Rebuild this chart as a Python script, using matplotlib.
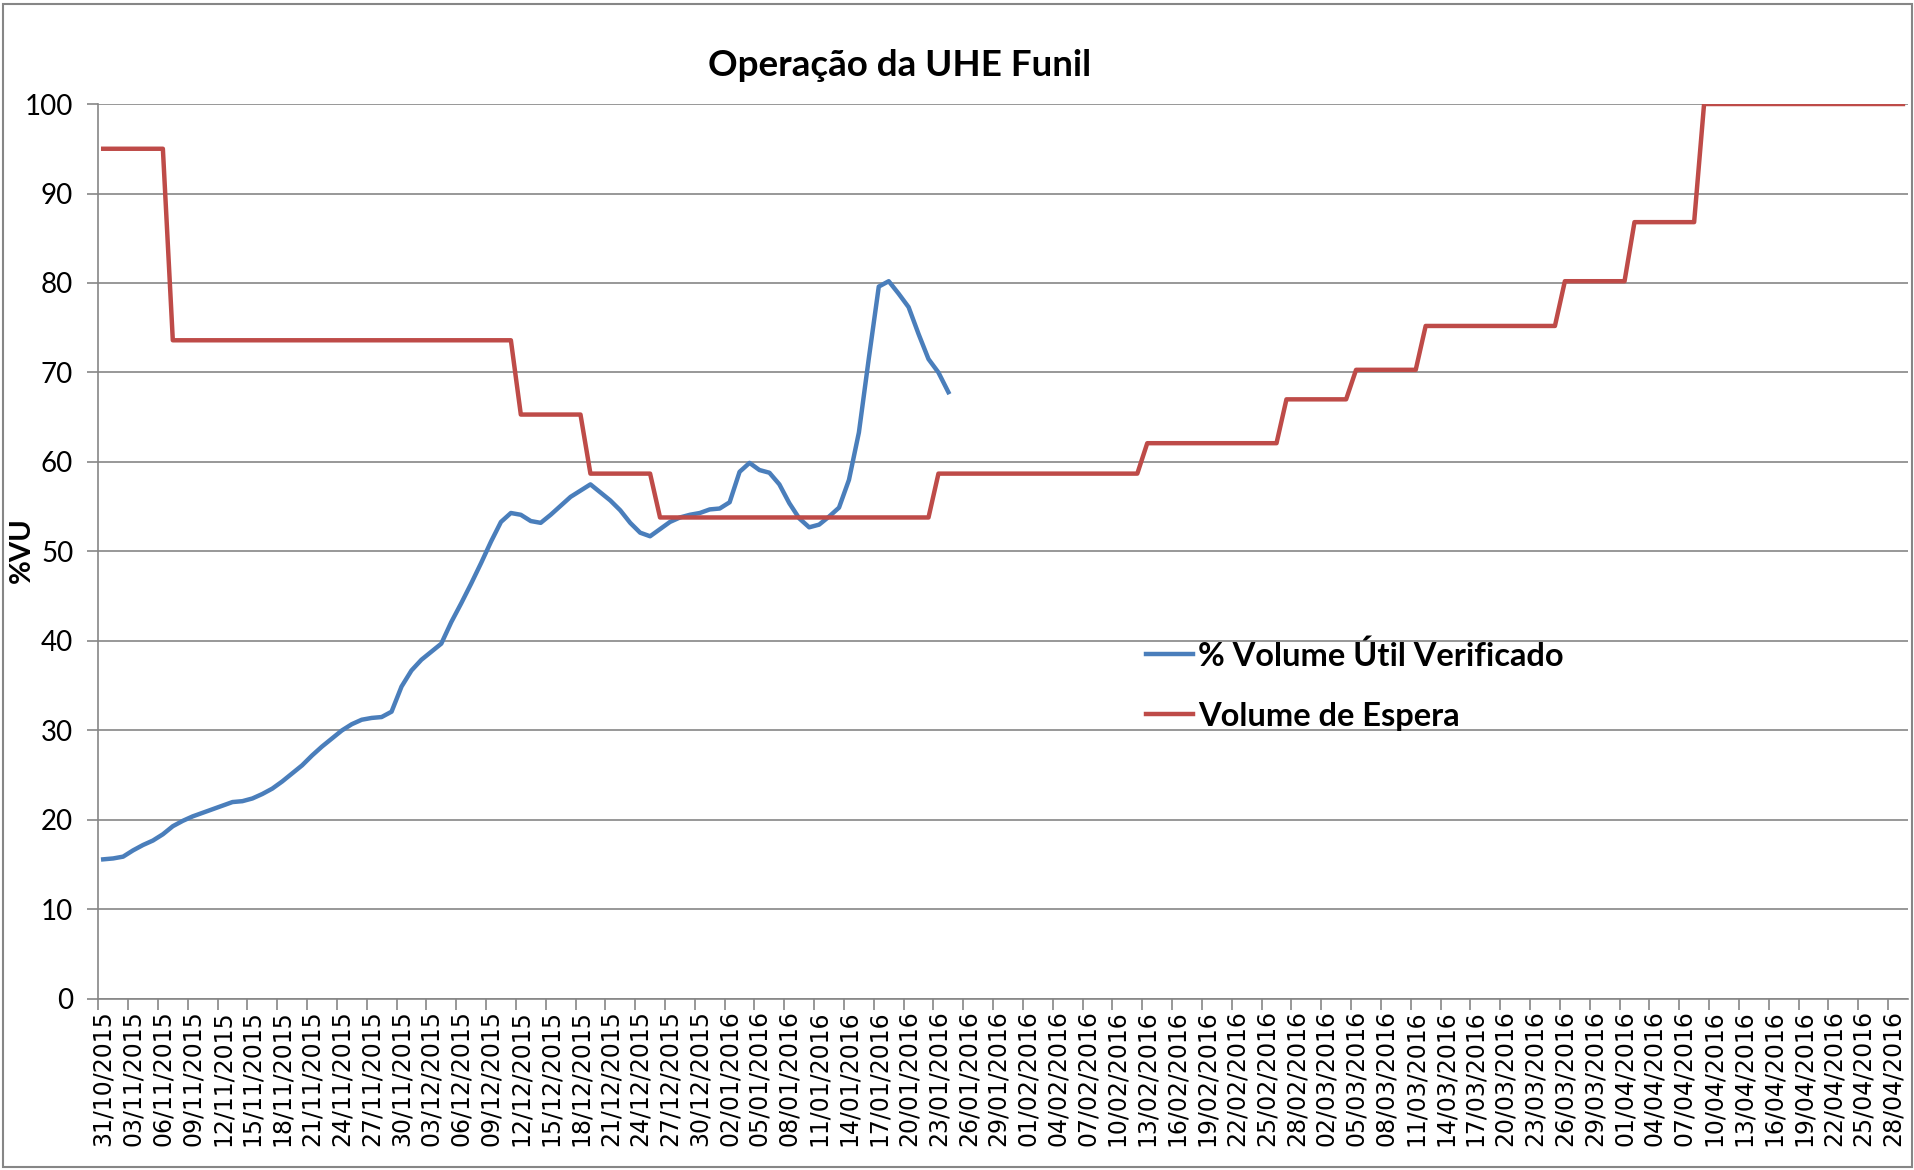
import numpy as np
import pandas as pd
import matplotlib.pyplot as plt
from matplotlib.patches import Rectangle

plt.rcParams['font.family'] = ['Lato', 'DejaVu Sans']

start = '2015-10-31'

# % volume util verificado, one value per day from 31/10/2015
volume = [15.6, 15.7, 15.9, 16.6, 17.2, 17.7, 18.4, 19.3, 19.9, 20.4,
          20.8, 21.2, 21.6, 22.0, 22.1, 22.4, 22.9, 23.5, 24.3, 25.2,
          26.1, 27.2, 28.2, 29.1, 30.0, 30.7, 31.2, 31.4, 31.5, 32.1,
          34.9, 36.7, 37.9, 38.8, 39.7, 42.1, 44.2, 46.4, 48.7, 51.1,
          53.3, 54.3, 54.1, 53.4, 53.2, 54.1, 55.1, 56.1, 56.8, 57.5,
          56.6, 55.7, 54.6, 53.2, 52.1, 51.7, 52.5, 53.3, 53.8, 54.1,
          54.3, 54.7, 54.8, 55.5, 58.9, 59.9, 59.1, 58.8, 57.5, 55.4,
          53.7, 52.7, 53.0, 53.9, 54.9, 58.0, 63.3, 71.6, 79.6, 80.2,
          78.8, 77.3, 74.3, 71.5, 70.0, 67.8]

# volume de espera: level and number of days it holds
espera_levels = [95.0, 73.6, 65.3, 58.7, 53.8, 58.7, 62.1, 67.0, 70.3, 75.2, 80.2, 86.8, 100.0]
espera_days = [7, 35, 7, 7, 28, 21, 14, 7, 7, 14, 7, 7, 21]

espera = np.repeat(espera_levels, espera_days)
d_vol = pd.date_range(start, periods=len(volume), freq='D')
d_esp = pd.date_range(start, periods=len(espera), freq='D')
label_dates = pd.date_range(start, '2016-04-28', freq='3D')

grid_c = '#868686'
fig = plt.figure(figsize=(19.15, 11.7), dpi=100)
ax = fig.add_axes([0.0513, 0.1462, 0.945, 0.7649])

ax.plot(d_vol, volume, color='#4A7EBB', lw=3.2, label='% Volume Útil Verificado', zorder=3)
ax.plot(d_esp, espera, color='#BE4B48', lw=3.2, label='Volume de Espera', zorder=3)

ax.set_ylim(0, 100)
ax.set_yticks(range(0, 101, 10))
ax.set_xlim(d_esp[0] - pd.Timedelta(hours=12), d_esp[-1] + pd.Timedelta(hours=12))
ax.grid(axis='y', color=grid_c, lw=1.2)
ax.set_axisbelow(True)

# labels centered on the day, tick marks on the boundaries
ax.set_xticks(label_dates - pd.Timedelta(hours=12))
ax.set_xticklabels([])
ax.set_xticks(label_dates, minor=True)
ax.set_xticklabels([d.strftime('%d/%m/%Y') for d in label_dates], minor=True,
                   rotation=90, fontsize=17, family='DejaVu Sans')
ax.tick_params(axis='x', which='major', length=8, color=grid_c, width=1.2)
ax.tick_params(axis='x', which='minor', length=0, pad=8)
ax.tick_params(axis='y', length=8, color=grid_c, width=1.2, labelsize=20, pad=10)

for s in ['top', 'right']:
    ax.spines[s].set_visible(False)
for s in ['left', 'bottom']:
    ax.spines[s].set_color(grid_c)
    ax.spines[s].set_linewidth(1.2)

fig.text(0.47, 1 - 65 / 1170, 'Operação da UHE Funil', ha='center', va='center',
         fontsize=26.5, fontweight='bold')
fig.text(22 / 1915, 1 - 550 / 1170, '%VU', rotation=90, ha='center', va='center',
         fontsize=21, fontweight='bold')

fig.legend(loc='upper left', bbox_to_anchor=(1146 / 1915, 1 - 640 / 1170), frameon=False,
           prop={'size': 23.5, 'weight': 'bold'}, handlelength=1.45, handletextpad=0.15,
           labelspacing=0.95, borderpad=0, borderaxespad=0)

fig.patches.append(Rectangle((0.0015, 0.0025), 0.997, 0.994, transform=fig.transFigure,
                             fill=False, edgecolor=grid_c, lw=1.5))

fig.savefig('out.png', dpi=100)
